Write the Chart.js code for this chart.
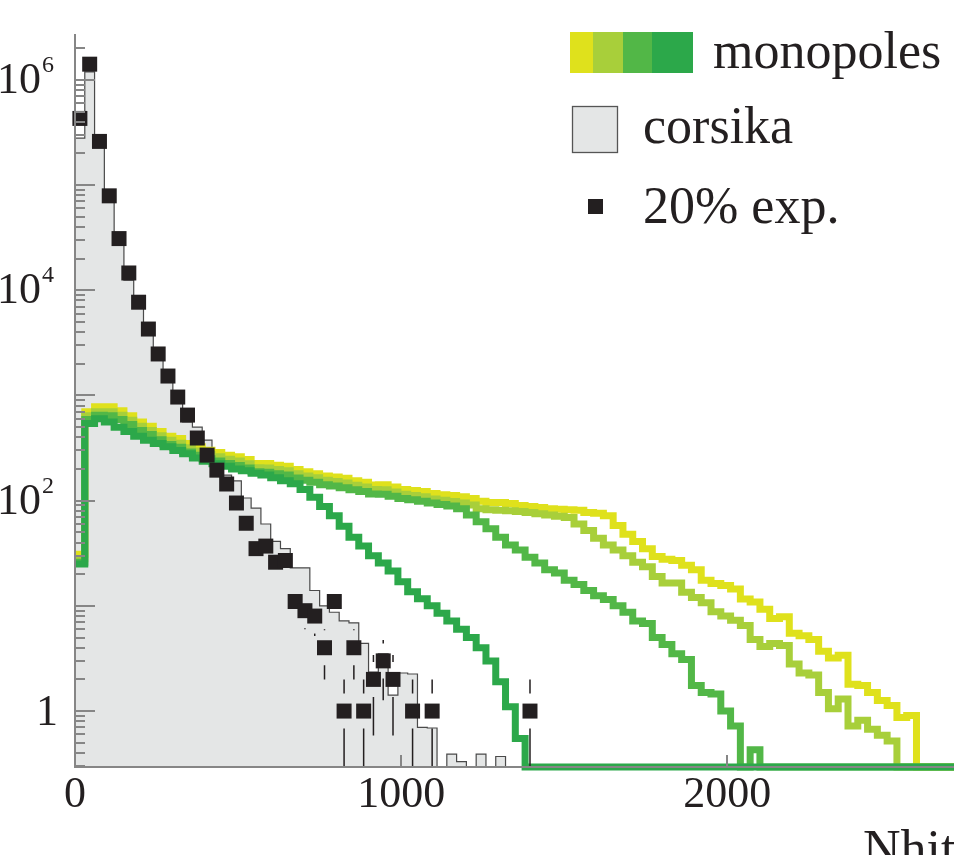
<!DOCTYPE html>
<html>
<head>
<meta charset="utf-8">
<script src="https://cdn.jsdelivr.net/npm/chart.js@4.4.1/dist/chart.umd.min.js"></script>
<style>
  html, body { margin: 0; padding: 0; background: #fff; }
</style>
</head>
<body>
<canvas id="nhits" width="954" height="855"></canvas>
<script>
// bins of 30 hits, starting at 0
const BIN_WIDTH = 30;
const X_MAX = 2695;
const Y_MIN = 0.294;
const Y_MAX = 2.67e6;

const xTicks = [0, 1000, 2000];
const yTicks = [1, 100, 1e4, 1e6];
const yTickExp = [0, 2, 4, 6];

// monopole histograms (4 shades), one value per bin
const monoYellow = [
  31, 700, 780, 780, 714, 640, 561, 510, 454, 410,
  389, 349, 325, 301, 287, 270, 261, 246, 225, 225,
  217, 212, 198, 188, 180, 172, 168, 163, 155, 150,
  141, 142, 135, 128, 125, 122, 117, 114, 112, 109,
  105, 99, 96, 96, 94, 90, 88, 86, 84, 83,
  82, 81, 77, 76, 72, 58, 48, 41, 35, 29.5,
  27.7, 27, 24.3, 22, 17.5, 16.3, 15.6, 14.5, 11.6, 10.9,
  9.3, 7.6, 7.9, 5.5, 5.2, 4.8, 3.7, 3.2, 3.4, 1.8,
  1.75, 1.5, 1.26, 1.13, 0.87, 0.91, 0, 0, 0, 0
];
const monoLime = [
  28, 640, 700, 700, 650, 580, 510, 465, 415, 375,
  352, 318, 296, 275, 262, 247, 238, 224, 206, 204,
  198, 192, 180, 172, 165, 156, 152, 147, 140, 135,
  128, 127, 121, 115, 112, 109, 104, 101, 98, 95,
  91, 84, 82, 81, 80, 79, 77, 75, 73, 71,
  69, 60, 52, 44, 38, 34, 30, 26, 23.5, 19,
  16.5, 16.5, 13.5, 12, 10.7, 8.8, 8, 7.3, 6.5, 4.8,
  4.1, 4.4, 4.2, 2.8, 2.3, 2.2, 1.5, 1.05, 1.3, 0.72,
  0.82, 0.67, 0.59, 0.52, 0, 0, 0, 0, 0, 0
];
const monoGreen = [
  26, 590, 650, 640, 590, 530, 465, 425, 380, 342,
  322, 290, 270, 250, 238, 225, 216, 204, 188, 186,
  180, 175, 164, 156, 150, 142, 138, 133, 127, 122,
  116, 115, 110, 105, 102, 99, 95, 92, 89, 84,
  73, 63, 54, 45, 38, 34, 29, 25.5, 22, 20.5,
  17.5, 16, 14, 12.5, 11.5, 10, 8.7, 7.2, 6.8, 5,
  4.3, 3.5, 3.1, 1.75, 1.5, 1.45, 1.0, 0.72, 0, 0.43,
  0, 0, 0, 0, 0, 0, 0, 0, 0, 0,
  0, 0, 0, 0, 0, 0, 0, 0, 0, 0
];
const monoDark = [
  25, 540, 600, 560, 500, 455, 410, 375, 350, 325,
  300, 280, 255, 237, 224, 212, 200, 192, 182, 175,
  165, 155, 145, 128, 108, 88, 72, 57, 45, 37,
  30, 25.5, 21.5, 17, 13.6, 11.7, 10, 8.5, 7.2, 6,
  5, 4, 3, 1.9, 1.1, 0.55, 0, 0, 0, 0,
  0, 0, 0, 0, 0, 0, 0, 0, 0, 0,
  0, 0, 0, 0, 0, 0, 0, 0, 0, 0,
  0, 0, 0, 0, 0, 0, 0, 0, 0, 0,
  0, 0, 0, 0, 0, 0, 0, 0, 0, 0
];

// corsika simulation
const corsika = [
  2.8e5, 1.19e6, 2.7e5, 7.7e4, 2.9e4, 1.25e4, 7000, 4100, 2400, 1500,
  900, 560, 500, 377, 232, 175, 154, 106, 85, 60,
  41, 35, 23, 23, 14, 10, 8.7, 7.2, 6.9, 4.4,
  2.35, 3.5, 1.42, 2.3, 2.25, 0.7, 0.69, 0, 0.39, 0.33,
  0, 0.39, 0, 0.37, 0, 0, 0, 0, 0, 0,
  0, 0, 0, 0, 0, 0, 0, 0, 0, 0,
  0, 0, 0, 0, 0, 0, 0, 0, 0, 0,
  0, 0, 0, 0, 0, 0, 0, 0, 0, 0,
  0, 0, 0, 0, 0, 0, 0, 0, 0, 0
];

// 20% experimental sample (counts), null = empty bin
const expData = [
  4.3e5, 1.41e6, 2.6e5, 7.9e4, 3.1e4, 1.46e4, 7700, 4280, 2480, 1530,
  966, 651, 394, 271, 195, 144, 95, 61, 35, 37,
  26, 27, 11, 9, 8, 4, 11, 1, 4, 1,
  2, 3, 2, null, 1, null, 1, null, null, null,
  null, null, null, null, null, null, 1
];

const YELLOW = "#dfe11c";
const LIME = "#a8cf3a";
const GREEN = "#52b747";
const DARK = "#2ca84a";
const AXIS = "#868686";
const INK = "#231f20";
const FONT = '"Liberation Serif", "Times New Roman", serif';

function histPoints(values) {
    const pts = values.map((v, i) => ({ x: i * BIN_WIDTH, y: v > 0 ? v : Y_MIN }));
    pts.push({ x: values.length * BIN_WIDTH, y: pts[pts.length - 1].y });
    return pts;
}

function monoSet(values, color, order) {
    return {
        data: histPoints(values),
        borderColor: color,
        borderWidth: 7,
        borderJoinStyle: "miter",
        stepped: true,
        pointRadius: 0,
        fill: false,
        clip: false,
        order: order,
    };
}

const expPoints = [];
expData.forEach((v, i) => {
    if (v !== null) expPoints.push({ x: i * BIN_WIDTH + BIN_WIDTH / 2, y: v });
});

// inner tick marks like the ROOT frame
const frameTicks = {
    id: "frameTicks",
    afterDatasetsDraw(chart) {
        const { ctx, chartArea } = chart;
        const ys = chart.scales.y, xs = chart.scales.x;
        ctx.save();
        ctx.strokeStyle = AXIS;
        ctx.lineWidth = 2;
        for (let e = -1; e <= 6; e++) {
            for (let m = 1; m <= 9; m++) {
                const v = m * Math.pow(10, e);
                if (v < Y_MIN || v > Y_MAX) continue;
                const py = Math.round(ys.getPixelForValue(v));
                const len = m === 1 ? 20 : 10;
                ctx.beginPath();
                ctx.moveTo(chartArea.left, py);
                ctx.lineTo(chartArea.left + len, py);
                ctx.stroke();
            }
        }
        xTicks.forEach((t) => {
            const px = Math.round(xs.getPixelForValue(t));
            ctx.beginPath();
            ctx.moveTo(px, chartArea.bottom);
            ctx.lineTo(px, chartArea.bottom - 12);
            ctx.stroke();
        });
        ctx.restore();
    },
};

// sqrt(N) error bars with a gap around the marker
const errorBars = {
    id: "errorBars",
    beforeDatasetDraw(chart, args) {
        if (args.index !== 0) return;
        const { ctx, chartArea } = chart;
        const ys = chart.scales.y, xs = chart.scales.x;
        const gap = 17.5;
        ctx.save();
        ctx.strokeStyle = INK;
        ctx.lineWidth = 1.5;
        expPoints.forEach((p) => {
            const err = Math.sqrt(p.y);
            const px = xs.getPixelForValue(p.x);
            const pc = ys.getPixelForValue(p.y);
            const ph = ys.getPixelForValue(p.y + err);
            const pl = p.y - err > Y_MIN ? ys.getPixelForValue(p.y - err) : chartArea.bottom;
            ctx.beginPath();
            if (pc - gap > ph) { ctx.moveTo(px, ph); ctx.lineTo(px, pc - gap); }
            if (pc + gap < pl) { ctx.moveTo(px, pc + gap); ctx.lineTo(px, pl); }
            ctx.stroke();
        });
        ctx.restore();
    },
};

// y labels as 10 with a raised exponent, legend and axis title
const labelsAndLegend = {
    id: "labelsAndLegend",
    afterDraw(chart) {
        const ctx = chart.ctx;
        const ys = chart.scales.y;
        ctx.save();
        ctx.fillStyle = INK;
        ctx.textBaseline = "alphabetic";
        yTicks.forEach((t, i) => {
            const py = ys.getPixelForValue(t);
            if (yTickExp[i] === 0) {
                ctx.font = "44px " + FONT;
                ctx.textAlign = "right";
                ctx.fillText("1", 58, py + 14);
            } else {
                ctx.font = "44px " + FONT;
                ctx.textAlign = "right";
                ctx.fillText("10", 41, py + 13);
                ctx.font = "24px " + FONT;
                ctx.textAlign = "left";
                ctx.fillText(String(yTickExp[i]), 42, py - 8);
            }
        });
        ctx.textAlign = "left";

        const patch = [[570, 593, YELLOW], [593, 623, LIME], [623, 652, GREEN], [652, 693, DARK]];
        patch.forEach(([a, b, c]) => { ctx.fillStyle = c; ctx.fillRect(a, 32, b - a, 41); });
        ctx.fillStyle = "#e4e6e6";
        ctx.fillRect(572, 106, 46, 47);
        ctx.strokeStyle = "#555";
        ctx.lineWidth = 1.3;
        ctx.strokeRect(572.5, 106.5, 45, 46);
        ctx.fillStyle = INK;
        ctx.fillRect(588, 199, 15, 15);
        ctx.font = "52px " + FONT;
        ctx.fillText("monopoles", 713, 68);
        ctx.fillText("corsika", 643, 143);
        ctx.fillText("20% exp.", 643, 223);
        // axis title, cut by the edge like the original
        ctx.fillText("Nhits", 863, 866);
        ctx.restore();
    },
};

document.addEventListener("DOMContentLoaded", () => {
    const ctx = document.getElementById("nhits").getContext("2d");

    new Chart(ctx, {
        type: "line",
        data: {
            datasets: [
                {
                    data: expPoints,
                    showLine: false,
                    pointStyle: "rect",
                    pointRadius: 10.6,
                    pointBorderWidth: 0,
                    pointBackgroundColor: INK,
                    pointBorderColor: INK,
                    clip: false,
                    order: 0,
                },
                monoSet(monoDark, DARK, 1),
                monoSet(monoGreen, GREEN, 2),
                monoSet(monoLime, LIME, 3),
                monoSet(monoYellow, YELLOW, 4),
                {
                    data: histPoints(corsika),
                    borderColor: "#4a4a4a",
                    borderWidth: 1.2,
                    backgroundColor: "#e4e6e6",
                    stepped: true,
                    pointRadius: 0,
                    fill: "start",
                    order: 5,
                },
            ],
        },
        options: {
            responsive: false,
            animation: false,
            devicePixelRatio: 1,
            layout: { autoPadding: false, padding: { top: 35, right: 0, left: 0, bottom: 0 } },
            plugins: {
                legend: { display: false },
                tooltip: { enabled: false },
            },
            scales: {
                x: {
                    type: "linear",
                    bounds: "data",
                    min: 0,
                    max: X_MAX,
                    grid: { display: false, drawTicks: false },
                    border: { display: true, color: AXIS, width: 2, z: 1 },
                    ticks: {
                        color: INK,
                        font: { family: FONT, size: 44 },
                        padding: 2,
                        maxRotation: 0,
                        callback: (v) => String(v),
                    },
                    afterBuildTicks: (s) => { s.ticks = xTicks.map((v) => ({ value: v })); },
                    afterFit: (s) => {
                        s.height = 88;
                        s.paddingLeft = 0;
                        s.paddingRight = 0;
                    },
                },
                y: {
                    type: "logarithmic",
                    bounds: "data",
                    min: Y_MIN,
                    max: Y_MAX,
                    grid: { display: false, drawTicks: false },
                    border: { display: true, color: AXIS, width: 2, z: 1 },
                    ticks: { display: false },
                    afterBuildTicks: (s) => { s.ticks = yTicks.map((v) => ({ value: v })); },
                    afterFit: (s) => {
                        s.width = 75;
                        s.paddingTop = 0;
                        s.paddingBottom = 0;
                    },
                },
            },
        },
        plugins: [frameTicks, errorBars, labelsAndLegend],
    });
});
</script>
</body>
</html>
